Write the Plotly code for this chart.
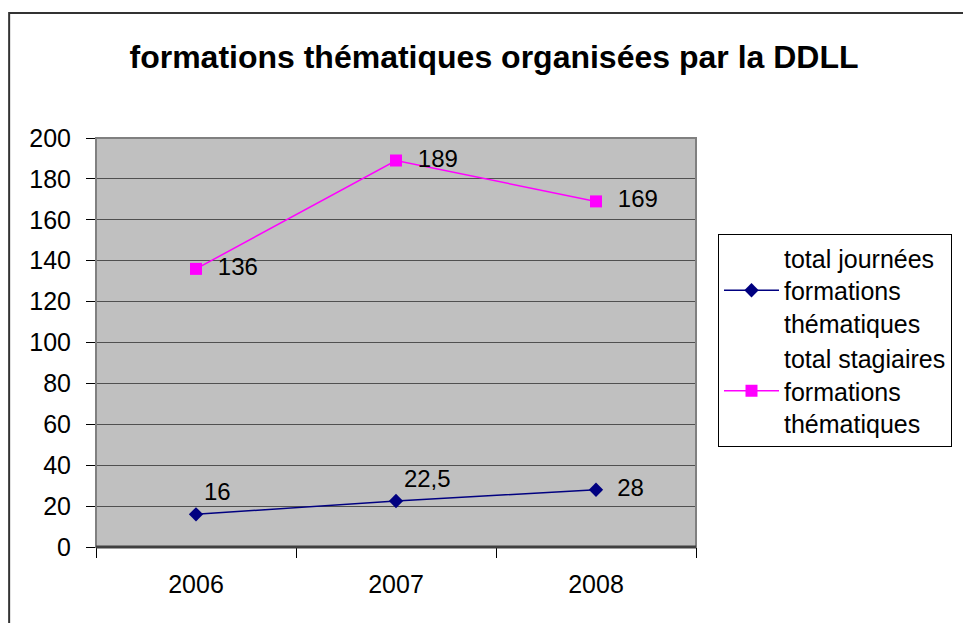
import plotly.graph_objects as go

years = ["2006", "2007", "2008"]
journees = [16, 22.5, 28]
stagiaires = [136, 189, 169]
journees_labels = ["16", "22,5", "28"]
stagiaires_labels = ["136", "189", "169"]
series_names = ["total journées<br>formations<br>thématiques",
                "total stagiaires<br>formations<br>thématiques"]
title_text = "formations thématiques organisées par la DDLL"

W, H = 963, 623
L, R, T, B = 96, 697, 138, 547
FONT = "Liberation Sans, Arial"

fig = go.Figure()
fig.add_trace(go.Scatter(
    x=years, y=journees, mode="lines+markers+text", name=series_names[0],
    line=dict(color="#000080", width=1.5),
    marker=dict(symbol="diamond", size=11, color="#000080"),
    text=[journees_labels[0], journees_labels[1], "  " + journees_labels[2]],
    textposition=["top right", "top right", "middle right"],
    textfont=dict(size=24, color="black", family=FONT),
    cliponaxis=False,
))
fig.add_trace(go.Scatter(
    x=years, y=stagiaires, mode="lines+markers+text", name=series_names[1],
    line=dict(color="#FF00FF", width=1.5),
    marker=dict(symbol="square", size=12, color="#FF00FF"),
    text=["  " + s for s in stagiaires_labels], textposition="middle right",
    textfont=dict(size=24, color="black", family=FONT),
    cliponaxis=False,
))

pw, ph = R - L, B - T
fig.update_layout(
    width=W, height=H,
    margin=dict(l=L, r=W - R, t=T, b=H - B, pad=0),
    paper_bgcolor="white", plot_bgcolor="#C0C0C0",
    font=dict(family=FONT, size=24, color="black"),
    title=dict(text="<b>" + title_text + "</b>", x=494 / W, xanchor="center",
               y=1 - 57 / H, yanchor="middle",
               font=dict(size=32, family=FONT, color="black")),
    showlegend=True,
    legend=dict(x=(718 - L) / pw, y=(B - 234) / ph, xanchor="left", yanchor="top",
                bordercolor="black", borderwidth=1, bgcolor="white",
                font=dict(size=25, family=FONT),
                tracegroupgap=6, itemwidth=55),
    xaxis=dict(type="category", range=[-0.5, 2.5], tickson="boundaries",
               ticks="outside", ticklen=10, tickcolor="black", showgrid=False,
               showline=True, linecolor="black", linewidth=1,
               tickfont=dict(size=25), zeroline=False, ticklabelstandoff=15),
    yaxis=dict(range=[0, 200], dtick=20, ticks="outside", ticklen=9,
               tickcolor="black", showgrid=True, gridcolor="#505050", gridwidth=1,
               showline=True, linecolor="black", linewidth=1,
               tickfont=dict(size=25), zeroline=False, ticklabelstandoff=10),
    shapes=[
        dict(type="rect", xref="paper", yref="paper", x0=0, x1=1, y0=0, y1=1,
             line=dict(color="#808080", width=2), layer="above"),
        dict(type="line", xref="paper", yref="paper", x0=0, x1=1, y0=0, y1=0,
             line=dict(color="#404040", width=3), layer="above"),
        dict(type="rect", xref="paper", yref="paper",
             x0=(9 - L) / pw, x1=(W + 10 - L) / pw,
             y0=(B - (H + 10)) / ph, y1=(B - 13) / ph,
             line=dict(color="#333333", width=2), layer="below"),
    ],
)

fig.write_html("out.html", config={"displayModeBar": False},
               post_script="document.body.style.margin='0';document.body.style.padding='0';")
